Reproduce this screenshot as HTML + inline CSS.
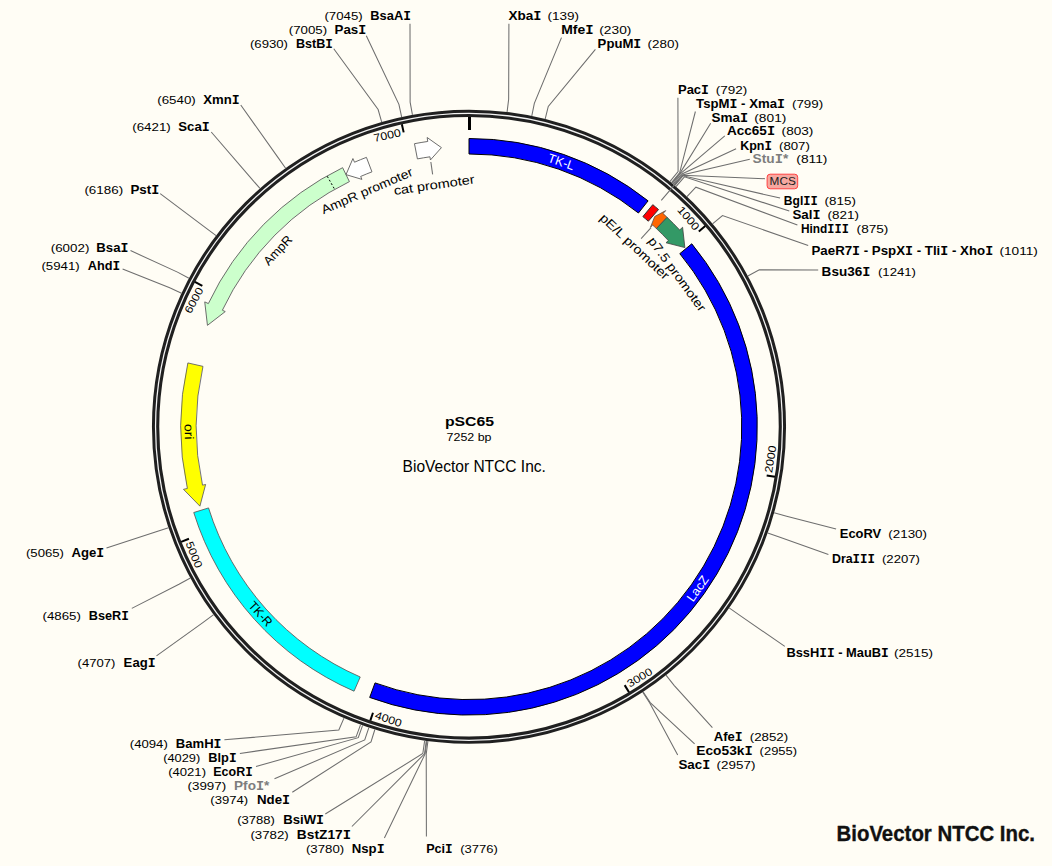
<!DOCTYPE html>
<html><head><meta charset="utf-8"><style>
html,body{margin:0;padding:0;background:#fffdf5;}
svg{display:block;}
text{font-family:"Liberation Sans", sans-serif;}
</style></head><body>
<svg width="1052" height="866" viewBox="0 0 1052 866" font-family='"Liberation Sans", sans-serif'>
<rect width="1052" height="866" fill="#fffdf5"/>
<circle cx="469.0" cy="426.8" r="313.4" fill="none" stroke="#202020" stroke-width="7.3"/>
<circle cx="469.0" cy="426.8" r="313.45" fill="none" stroke="#f4f4f4" stroke-width="1.25"/>
<path d="M469,138.5 A288.3,288.3 0 0 1 648.08,200.86 L638.45,213.01 A272.8,272.8 0 0 0 469,154 Z" fill="#0000ff" stroke="#000000" stroke-width="1.0" stroke-linejoin="miter"/>
<path d="M652.77,204.66 A288.3,288.3 0 0 1 658.52,209.55 L648.33,221.23 A272.8,272.8 0 0 0 642.89,216.6 Z" fill="#ff0000" stroke="#303030" stroke-width="1.0" stroke-linejoin="miter"/>
<path d="M667.09,217.33 A288.3,288.3 0 0 0 663.03,213.56 L665.72,210.61 L654.71,216.52 L650.44,227.4 L652.6,225.03 A272.8,272.8 0 0 1 656.44,228.59 Z" fill="#ff6600" stroke="#505050" stroke-width="0.8" stroke-linejoin="miter"/>
<path d="M667.09,217.33 A288.3,288.3 0 0 1 679.68,230 L682.6,227.27 L684.86,247.59 L666.01,242.76 L668.35,240.58 A272.8,272.8 0 0 0 656.44,228.59 Z" fill="#339966" stroke="#404040" stroke-width="0.8" stroke-linejoin="miter"/>
<path d="M691.78,243.81 A288.3,288.3 0 0 1 369.69,697.45 L375.03,682.9 A272.8,272.8 0 0 0 679.8,253.65 Z" fill="#0000ff" stroke="#000000" stroke-width="1.0" stroke-linejoin="miter"/>
<path d="M354.04,691.19 A288.3,288.3 0 0 1 193.74,512.53 L208.54,507.92 A272.8,272.8 0 0 0 360.22,676.97 Z" fill="#00ffff" stroke="#5a4a4a" stroke-width="0.8" stroke-linejoin="miter"/>
<path d="M187.86,362.93 A288.3,288.3 0 0 0 187.37,488.46 L183.46,489.32 L199.91,506.15 L205.64,484.46 L202.51,485.15 A272.8,272.8 0 0 1 202.98,366.36 Z" fill="#ffff00" stroke="#505060" stroke-width="0.8" stroke-linejoin="miter"/>
<path d="M342.62,167.68 A288.3,288.3 0 0 0 208.35,303.59 L204.74,301.88 L207.44,325.35 L225.26,311.58 L222.37,310.22 A272.8,272.8 0 0 1 349.41,181.61 Z" fill="#ccffcc" stroke="#5c5c5c" stroke-width="0.9" stroke-linejoin="miter"/>
<path d="M366.43,157.36 A288.3,288.3 0 0 0 354.5,162.21 L352.91,158.54 L346.01,174.64 L361.93,179.37 L360.66,176.44 A272.8,272.8 0 0 1 371.95,171.85 Z" fill="#ffffff" stroke="#5c5c5c" stroke-width="0.9" stroke-linejoin="miter"/>
<path d="M414.48,143.7 A288.3,288.3 0 0 1 427.73,141.47 L427.16,137.51 L441.43,147.61 L430.41,159.98 L429.95,156.81 A272.8,272.8 0 0 0 417.41,158.92 Z" fill="#ffffff" stroke="#5c5c5c" stroke-width="0.9" stroke-linejoin="miter"/>
<line x1="327.28" y1="176.31" x2="334.42" y2="188.93" stroke="#000" stroke-width="1" stroke-dasharray="2,2"/>
<line x1="469.5" y1="117" x2="469.5" y2="130" stroke="#000" stroke-width="3"/>
<line x1="705.22" y1="226.05" x2="698.82" y2="231.49" stroke="#000" stroke-width="2"/>
<text x="688.69" y="218.13" transform="rotate(49.64 688.69 218.13)" text-anchor="middle" dominant-baseline="central" font-size="10.9" textLength="27.5" lengthAdjust="spacingAndGlyphs">1000</text>
<line x1="774.94" y1="476.81" x2="766.65" y2="475.45" stroke="#000" stroke-width="2"/>
<text x="770.28" y="459.08" transform="rotate(-80.72 770.28 459.08)" text-anchor="middle" dominant-baseline="central" font-size="10.9" textLength="27.5" lengthAdjust="spacingAndGlyphs">2000</text>
<line x1="629.01" y1="692.31" x2="624.68" y2="685.12" stroke="#000" stroke-width="2"/>
<text x="639.5" y="677.28" transform="rotate(-31.08 639.5 677.28)" text-anchor="middle" dominant-baseline="central" font-size="10.9" textLength="27.5" lengthAdjust="spacingAndGlyphs">3000</text>
<line x1="370.3" y1="720.67" x2="372.97" y2="712.7" stroke="#000" stroke-width="2"/>
<text x="388.54" y="718.92" transform="rotate(18.57 388.54 718.92)" text-anchor="middle" dominant-baseline="central" font-size="10.9" textLength="27.5" lengthAdjust="spacingAndGlyphs">4000</text>
<line x1="181.15" y1="541.89" x2="188.95" y2="538.77" stroke="#000" stroke-width="2"/>
<text x="194.3" y="554.66" transform="rotate(68.21 194.3 554.66)" text-anchor="middle" dominant-baseline="central" font-size="10.9" textLength="27.5" lengthAdjust="spacingAndGlyphs">5000</text>
<line x1="194.9" y1="281.99" x2="202.33" y2="285.91" stroke="#000" stroke-width="2"/>
<text x="193.68" y="300.28" transform="rotate(297.85 193.68 300.28)" text-anchor="middle" dominant-baseline="central" font-size="10.9" textLength="27.5" lengthAdjust="spacingAndGlyphs">6000</text>
<line x1="401.85" y1="124.16" x2="403.67" y2="132.36" stroke="#000" stroke-width="2"/>
<text x="387.13" y="135.07" transform="rotate(347.49 387.13 135.07)" text-anchor="middle" dominant-baseline="central" font-size="10.9" textLength="27.5" lengthAdjust="spacingAndGlyphs">7000</text>
<g fill="none" stroke="#6e6e6e" stroke-width="1.05"><polyline points="412.45,114.88 410.13,102.09 410,23.75"/><polyline points="401.68,117.03 398.92,104.33 366.3,35.75"/><polyline points="381.71,122.06 378.13,109.56 333.75,48.75"/><polyline points="285.62,168.23 278.1,157.62 240.75,105"/><polyline points="259.98,188.47 251.41,178.7 211.25,132"/><polyline points="216.11,235.66 205.74,227.82 160.2,193.6"/><polyline points="188.97,278.23 177.49,272.14 130.5,250.6"/><polyline points="181.51,293.23 169.72,287.75 122.6,268.9"/><polyline points="168.5,527.73 156.17,531.87 106.5,547.9"/><polyline points="190.4,578.03 178.97,584.23 131.8,608.4"/><polyline points="213.64,614.64 203.17,622.34 156.5,655.9"/><polyline points="343.96,718.1 338.83,730.04 224.4,739.8"/><polyline points="360.55,724.67 356.1,736.89 239.9,753.4"/><polyline points="362.62,725.42 358.26,737.66 256,766.5"/><polyline points="368.85,727.56 364.74,739.9 274.5,778.8"/><polyline points="374.86,729.5 371,741.91 292.3,792.2"/><polyline points="424.65,740.68 422.83,753.55 325.3,814"/><polyline points="426.28,740.91 424.53,753.79 351.9,826.5"/><polyline points="426.83,740.98 425.1,753.87 384.4,838"/><polyline points="507.08,112.1 508.65,99.19 508.9,23.8"/><polyline points="531.75,116.07 534.33,103.33 561.5,37.6"/><polyline points="545.15,119.08 548.27,106.46 595.4,49.4"/><polyline points="669.85,181.55 678.09,171.49 677.9,97.8"/><polyline points="671.33,182.77 679.63,172.76 695.4,111.5"/><polyline points="671.76,183.12 680.07,173.13 710.7,123.3"/><polyline points="672.18,183.47 680.51,173.5 724.8,135.8"/><polyline points="673.02,184.18 681.39,174.23 736.1,148.7"/><polyline points="673.86,184.89 682.26,174.97 749.8,159.2"/><polyline points="674.7,185.6 683.13,175.71 780.1,198.1"/><polyline points="675.95,186.67 684.44,176.82 789.3,211.1"/><polyline points="686.95,196.61 695.89,187.17 797.4,225.1"/><polyline points="712.5,223.83 722.49,215.51 808.2,245.5"/><polyline points="747.86,276.05 759.3,269.87 818.2,269.9"/><polyline points="774.12,512.77 786.63,516.3 836.1,529.1"/><polyline points="767.71,532.92 779.96,537.28 828.4,554.4"/><polyline points="729.15,607.94 739.82,615.36 784.8,646.4"/><polyline points="666,675.15 674.08,685.34 712.4,727.7"/><polyline points="643.08,691.72 650.22,702.59 694.6,743.8"/><polyline points="642.62,692.02 649.74,702.9 677.7,755.1"/><polyline points="427.92,741.13 426.23,754.02 426.4,836.4"/><polyline points="661.29,200.46 682.66,175.31 765,178.7"/><polyline points="430.85,162.03 432.63,174.41"/><polyline points="651.1,227.72 641.11,238.64"/></g>
<g><text x="370.3" y="19.9" font-weight="bold" font-size="12.2" fill="#000" textLength="40.62" lengthAdjust="spacingAndGlyphs">BsaA<tspan font-family="Liberation Mono">I</tspan></text><text x="324.42" y="19.9" font-size="11.3" fill="#000" textLength="38.26" lengthAdjust="spacingAndGlyphs">(7045)</text><text x="334.52" y="33.8" font-weight="bold" font-size="12.2" fill="#000" textLength="31.74" lengthAdjust="spacingAndGlyphs">Pas<tspan font-family="Liberation Mono">I</tspan></text><text x="288.76" y="33.8" font-size="11.3" fill="#000" textLength="38.38" lengthAdjust="spacingAndGlyphs">(7005)</text><text x="295.98" y="47.8" font-weight="bold" font-size="12.2" fill="#000" textLength="36.94" lengthAdjust="spacingAndGlyphs">BstB<tspan font-family="Liberation Mono">I</tspan></text><text x="249.98" y="47.8" font-size="11.3" fill="#000" textLength="38.04" lengthAdjust="spacingAndGlyphs">(6930)</text><text x="203.3" y="104.25" font-weight="bold" font-size="12.2" fill="#000" textLength="36.45" lengthAdjust="spacingAndGlyphs">Xmn<tspan font-family="Liberation Mono">I</tspan></text><text x="157.25" y="104.25" font-size="11.3" fill="#000" textLength="38.55" lengthAdjust="spacingAndGlyphs">(6540)</text><text x="178.3" y="130.75" font-weight="bold" font-size="12.2" fill="#000" textLength="31.45" lengthAdjust="spacingAndGlyphs">Sca<tspan font-family="Liberation Mono">I</tspan></text><text x="132.25" y="130.75" font-size="11.3" fill="#000" textLength="38.55" lengthAdjust="spacingAndGlyphs">(6421)</text><text x="130.42" y="193.9" font-weight="bold" font-size="12.2" fill="#000" textLength="28.84" lengthAdjust="spacingAndGlyphs">Pst<tspan font-family="Liberation Mono">I</tspan></text><text x="84.42" y="193.9" font-size="11.3" fill="#000" textLength="38.72" lengthAdjust="spacingAndGlyphs">(6186)</text><text x="96.3" y="251.8" font-weight="bold" font-size="12.2" fill="#000" textLength="32.08" lengthAdjust="spacingAndGlyphs">Bsa<tspan font-family="Liberation Mono">I</tspan></text><text x="50.76" y="251.8" font-size="11.3" fill="#000" textLength="38.6" lengthAdjust="spacingAndGlyphs">(6002)</text><text x="87.76" y="269.9" font-weight="bold" font-size="12.2" fill="#000" textLength="32.38" lengthAdjust="spacingAndGlyphs">Ahd<tspan font-family="Liberation Mono">I</tspan></text><text x="41.42" y="269.9" font-size="11.3" fill="#000" textLength="38.26" lengthAdjust="spacingAndGlyphs">(5941)</text><text x="71.42" y="556.7" font-weight="bold" font-size="12.2" fill="#000" textLength="32.72" lengthAdjust="spacingAndGlyphs">Age<tspan font-family="Liberation Mono">I</tspan></text><text x="25.98" y="556.7" font-size="11.3" fill="#000" textLength="38.04" lengthAdjust="spacingAndGlyphs">(5065)</text><text x="88.76" y="619.8" font-weight="bold" font-size="12.2" fill="#000" textLength="40.16" lengthAdjust="spacingAndGlyphs">BseR<tspan font-family="Liberation Mono">I</tspan></text><text x="42.52" y="619.8" font-size="11.3" fill="#000" textLength="38.38" lengthAdjust="spacingAndGlyphs">(4865)</text><text x="123.64" y="667" font-weight="bold" font-size="12.2" fill="#000" textLength="31.96" lengthAdjust="spacingAndGlyphs">Eag<tspan font-family="Liberation Mono">I</tspan></text><text x="77.64" y="667" font-size="11.3" fill="#000" textLength="37.7" lengthAdjust="spacingAndGlyphs">(4707)</text><text x="175.86" y="747.7" font-weight="bold" font-size="12.2" fill="#000" textLength="45.62" lengthAdjust="spacingAndGlyphs">BamH<tspan font-family="Liberation Mono">I</tspan></text><text x="129.76" y="747.7" font-size="11.3" fill="#000" textLength="38.04" lengthAdjust="spacingAndGlyphs">(4094)</text><text x="208.3" y="761.5" font-weight="bold" font-size="12.2" fill="#000" textLength="28.28" lengthAdjust="spacingAndGlyphs">Blp<tspan font-family="Liberation Mono">I</tspan></text><text x="163.2" y="761.5" font-size="11.3" fill="#000" textLength="37.04" lengthAdjust="spacingAndGlyphs">(4029)</text><text x="213.3" y="775.6" font-weight="bold" font-size="12.2" fill="#000" textLength="39.4" lengthAdjust="spacingAndGlyphs">EcoR<tspan font-family="Liberation Mono">I</tspan></text><text x="168.2" y="775.6" font-size="11.3" fill="#000" textLength="37.82" lengthAdjust="spacingAndGlyphs">(4021)</text><text x="234.1" y="789.7" font-weight="bold" font-size="12.2" fill="#7d7d7d" textLength="35.24" lengthAdjust="spacingAndGlyphs">Pfo<tspan font-family="Liberation Mono">I</tspan>*</text><text x="187.52" y="789.7" font-size="11.3" fill="#000" textLength="38.62" lengthAdjust="spacingAndGlyphs">(3997)</text><text x="256.98" y="803.5" font-weight="bold" font-size="12.2" fill="#000" textLength="33.06" lengthAdjust="spacingAndGlyphs">Nde<tspan font-family="Liberation Mono">I</tspan></text><text x="210.3" y="803.5" font-size="11.3" fill="#000" textLength="37.82" lengthAdjust="spacingAndGlyphs">(3974)</text><text x="283.2" y="824.4" font-weight="bold" font-size="12.2" fill="#000" textLength="40.84" lengthAdjust="spacingAndGlyphs">BsiW<tspan font-family="Liberation Mono">I</tspan></text><text x="237.2" y="824.4" font-size="11.3" fill="#000" textLength="37.7" lengthAdjust="spacingAndGlyphs">(3788)</text><text x="296.86" y="838.7" font-weight="bold" font-size="12.2" fill="#000" textLength="54.06" lengthAdjust="spacingAndGlyphs">BstZ17<tspan font-family="Liberation Mono">I</tspan></text><text x="250.42" y="838.7" font-size="11.3" fill="#000" textLength="38.38" lengthAdjust="spacingAndGlyphs">(3782)</text><text x="351.76" y="853" font-weight="bold" font-size="12.2" fill="#000" textLength="32.84" lengthAdjust="spacingAndGlyphs">Nsp<tspan font-family="Liberation Mono">I</tspan></text><text x="305.98" y="853" font-size="11.3" fill="#000" textLength="38.16" lengthAdjust="spacingAndGlyphs">(3780)</text><text x="508.42" y="19.6" font-weight="bold" font-size="12.2" fill="#000" textLength="32.96" lengthAdjust="spacingAndGlyphs">Xba<tspan font-family="Liberation Mono">I</tspan></text><text x="547.52" y="19.6" font-size="11.3" fill="#000" textLength="31.5" lengthAdjust="spacingAndGlyphs">(139)</text><text x="561.3" y="34.2" font-weight="bold" font-size="12.2" fill="#000" textLength="32.3" lengthAdjust="spacingAndGlyphs">Mfe<tspan font-family="Liberation Mono">I</tspan></text><text x="599.3" y="34.2" font-size="11.3" fill="#000" textLength="32.06" lengthAdjust="spacingAndGlyphs">(230)</text><text x="597.64" y="48.1" font-weight="bold" font-size="12.2" fill="#000" textLength="43.62" lengthAdjust="spacingAndGlyphs">PpuM<tspan font-family="Liberation Mono">I</tspan></text><text x="647.64" y="48.1" font-size="11.3" fill="#000" textLength="31.26" lengthAdjust="spacingAndGlyphs">(280)</text><text x="677.98" y="93.7" font-weight="bold" font-size="12.2" fill="#000" textLength="30.94" lengthAdjust="spacingAndGlyphs">Pac<tspan font-family="Liberation Mono">I</tspan></text><text x="715.76" y="93.7" font-size="11.3" fill="#000" textLength="31.48" lengthAdjust="spacingAndGlyphs">(792)</text><text x="696.1" y="107.5" font-weight="bold" font-size="12.2" fill="#000" textLength="88.82" lengthAdjust="spacingAndGlyphs">TspM<tspan font-family="Liberation Mono">I</tspan> - Xma<tspan font-family="Liberation Mono">I</tspan></text><text x="791.98" y="107.5" font-size="11.3" fill="#000" textLength="31.16" lengthAdjust="spacingAndGlyphs">(799)</text><text x="711.42" y="121.5" font-weight="bold" font-size="12.2" fill="#000" textLength="36.62" lengthAdjust="spacingAndGlyphs">Sma<tspan font-family="Liberation Mono">I</tspan></text><text x="754.3" y="121.5" font-size="11.3" fill="#000" textLength="32.06" lengthAdjust="spacingAndGlyphs">(801)</text><text x="726.98" y="135.4" font-weight="bold" font-size="12.2" fill="#000" textLength="48.06" lengthAdjust="spacingAndGlyphs">Acc65<tspan font-family="Liberation Mono">I</tspan></text><text x="781.64" y="135.4" font-size="11.3" fill="#000" textLength="31.72" lengthAdjust="spacingAndGlyphs">(803)</text><text x="740.2" y="149.5" font-weight="bold" font-size="12.2" fill="#000" textLength="31.72" lengthAdjust="spacingAndGlyphs">Kpn<tspan font-family="Liberation Mono">I</tspan></text><text x="778.98" y="149.5" font-size="11.3" fill="#000" textLength="30.94" lengthAdjust="spacingAndGlyphs">(807)</text><text x="752.64" y="163.2" font-weight="bold" font-size="12.2" fill="#7d7d7d" textLength="35.7" lengthAdjust="spacingAndGlyphs">Stu<tspan font-family="Liberation Mono">I</tspan>*</text><text x="796.3" y="163.2" font-size="11.3" fill="#000" textLength="31.16" lengthAdjust="spacingAndGlyphs">(811)</text><text x="783.86" y="205.4" font-weight="bold" font-size="12.2" fill="#000" textLength="33.96" lengthAdjust="spacingAndGlyphs">Bgl<tspan font-family="Liberation Mono">I</tspan><tspan font-family="Liberation Mono">I</tspan></text><text x="824.64" y="205.4" font-size="11.3" fill="#000" textLength="31.26" lengthAdjust="spacingAndGlyphs">(815)</text><text x="792.42" y="219.1" font-weight="bold" font-size="12.2" fill="#000" textLength="28.06" lengthAdjust="spacingAndGlyphs">Sal<tspan font-family="Liberation Mono">I</tspan></text><text x="827.64" y="219.1" font-size="11.3" fill="#000" textLength="31.38" lengthAdjust="spacingAndGlyphs">(821)</text><text x="800.98" y="232.9" font-weight="bold" font-size="12.2" fill="#000" textLength="47.82" lengthAdjust="spacingAndGlyphs">Hind<tspan font-family="Liberation Mono">I</tspan><tspan font-family="Liberation Mono">I</tspan><tspan font-family="Liberation Mono">I</tspan></text><text x="856.64" y="232.9" font-size="11.3" fill="#000" textLength="31.72" lengthAdjust="spacingAndGlyphs">(875)</text><text x="811.52" y="254.8" font-weight="bold" font-size="12.2" fill="#000" textLength="181.62" lengthAdjust="spacingAndGlyphs">PaeR7<tspan font-family="Liberation Mono">I</tspan> - PspX<tspan font-family="Liberation Mono">I</tspan> - Tli<tspan font-family="Liberation Mono">I</tspan> - Xho<tspan font-family="Liberation Mono">I</tspan></text><text x="999.42" y="254.8" font-size="11.3" fill="#000" textLength="38.48" lengthAdjust="spacingAndGlyphs">(1011)</text><text x="821.64" y="275.8" font-weight="bold" font-size="12.2" fill="#000" textLength="48.72" lengthAdjust="spacingAndGlyphs">Bsu36<tspan font-family="Liberation Mono">I</tspan></text><text x="877.98" y="275.8" font-size="11.3" fill="#000" textLength="38.04" lengthAdjust="spacingAndGlyphs">(1241)</text><text x="839.76" y="537.6" font-weight="bold" font-size="12.2" fill="#000" textLength="41.48" lengthAdjust="spacingAndGlyphs">EcoRV</text><text x="888.3" y="537.6" font-size="11.3" fill="#000" textLength="38.72" lengthAdjust="spacingAndGlyphs">(2130)</text><text x="831.98" y="562.8" font-weight="bold" font-size="12.2" fill="#000" textLength="42.94" lengthAdjust="spacingAndGlyphs">Dra<tspan font-family="Liberation Mono">I</tspan><tspan font-family="Liberation Mono">I</tspan><tspan font-family="Liberation Mono">I</tspan></text><text x="881.98" y="562.8" font-size="11.3" fill="#000" textLength="37.92" lengthAdjust="spacingAndGlyphs">(2207)</text><text x="786.42" y="656.9" font-weight="bold" font-size="12.2" fill="#000" textLength="102.4" lengthAdjust="spacingAndGlyphs">BssH<tspan font-family="Liberation Mono">I</tspan><tspan font-family="Liberation Mono">I</tspan> - MauB<tspan font-family="Liberation Mono">I</tspan></text><text x="894.08" y="656.9" font-size="11.3" fill="#000" textLength="38.94" lengthAdjust="spacingAndGlyphs">(2515)</text><text x="713.76" y="740.6" font-weight="bold" font-size="12.2" fill="#000" textLength="28.94" lengthAdjust="spacingAndGlyphs">Afe<tspan font-family="Liberation Mono">I</tspan></text><text x="749.76" y="740.6" font-size="11.3" fill="#000" textLength="38.38" lengthAdjust="spacingAndGlyphs">(2852)</text><text x="696.3" y="755.1" font-weight="bold" font-size="12.2" fill="#000" textLength="56.4" lengthAdjust="spacingAndGlyphs">Eco53k<tspan font-family="Liberation Mono">I</tspan></text><text x="759.64" y="755.1" font-size="11.3" fill="#000" textLength="37.48" lengthAdjust="spacingAndGlyphs">(2955)</text><text x="678.42" y="769.2" font-weight="bold" font-size="12.2" fill="#000" textLength="31.84" lengthAdjust="spacingAndGlyphs">Sac<tspan font-family="Liberation Mono">I</tspan></text><text x="716.64" y="769.2" font-size="11.3" fill="#000" textLength="38.72" lengthAdjust="spacingAndGlyphs">(2957)</text><text x="426.2" y="853" font-weight="bold" font-size="12.2" fill="#000" textLength="26.5" lengthAdjust="spacingAndGlyphs">Pci<tspan font-family="Liberation Mono">I</tspan></text><text x="460.2" y="853" font-size="11.3" fill="#000" textLength="37.6" lengthAdjust="spacingAndGlyphs">(3776)</text></g>
<rect x="767.1" y="174.2" width="30.6" height="14.6" rx="3" ry="3" fill="#f6a8a0" stroke="#ff4040" stroke-width="1"/>
<text x="769.6" y="185.2" font-size="11.5" fill="#202020" textLength="26.2" lengthAdjust="spacingAndGlyphs">MCS</text>
<text x="561.18" y="162.09" transform="rotate(19.2 561.18 162.09)" text-anchor="middle" dominant-baseline="central" font-size="12.5" fill="#fff" stroke="#fff" stroke-width="0.0" textLength="27.1" lengthAdjust="spacingAndGlyphs">TK-L</text>
<text x="697.9" y="588.57" transform="rotate(-54.75 697.9 588.57)" text-anchor="middle" dominant-baseline="central" font-size="12.5" fill="#fff" stroke="#fff" stroke-width="0.0" textLength="28.4" lengthAdjust="spacingAndGlyphs">LacZ</text>
<text x="260.37" y="613.99" transform="rotate(48.1 260.37 613.99)" text-anchor="middle" dominant-baseline="central" font-size="12.5" fill="#000" stroke="#000" stroke-width="0.0" textLength="28.8" lengthAdjust="spacingAndGlyphs">TK-R</text>
<text x="188.74" y="431.69" transform="rotate(89 188.74 431.69)" text-anchor="middle" dominant-baseline="central" font-size="12.5" fill="#000" stroke="#000" stroke-width="0.0" textLength="15.7" lengthAdjust="spacingAndGlyphs">ori</text>
<text x="277.92" y="250.48" transform="rotate(-47.3 277.92 250.48)" text-anchor="middle" dominant-baseline="central" font-size="12.5" fill="#000" stroke="#000" stroke-width="0.0" textLength="35.7" lengthAdjust="spacingAndGlyphs">AmpR</text>
<text x="367.01" y="191.12" transform="rotate(-23.4 367.01 191.12)" text-anchor="middle" dominant-baseline="central" font-size="12.5" fill="#000" stroke="#000" stroke-width="0.0" textLength="98.5" lengthAdjust="spacingAndGlyphs">AmpR promoter</text>
<text x="434.18" y="185.2" transform="rotate(-8.2 434.18 185.2)" text-anchor="middle" dominant-baseline="central" font-size="12.5" fill="#000" stroke="#000" stroke-width="0.0" textLength="81.5" lengthAdjust="spacingAndGlyphs">cat promoter</text>
<text x="634.5" y="246.82" transform="rotate(43.3 634.5 246.82)" text-anchor="middle" dominant-baseline="central" font-size="12.5" fill="#000" stroke="#000" stroke-width="0.0" textLength="89.8" lengthAdjust="spacingAndGlyphs">pE/L promoter</text>
<text x="676.9" y="274.36" transform="rotate(53.9 676.9 274.36)" text-anchor="middle" dominant-baseline="central" font-size="12.5" fill="#000" stroke="#000" stroke-width="0.0" textLength="88.5" lengthAdjust="spacingAndGlyphs">p7.5 promoter</text>
<text x="444.9" y="426.3" font-weight="bold" font-size="13.4" textLength="49.3" lengthAdjust="spacingAndGlyphs">pSC65</text>
<text x="446.6" y="440.9" font-size="11" textLength="44.9" lengthAdjust="spacingAndGlyphs">7252 bp</text>
<text x="402.6" y="471.6" font-size="15.8" textLength="143.3" lengthAdjust="spacingAndGlyphs">BioVector NTCC Inc.</text>
<text x="836.5" y="841.3" font-weight="bold" font-size="21.5" fill="#111" stroke="#111" stroke-width="0.35" textLength="198.5" lengthAdjust="spacingAndGlyphs">BioVector NTCC Inc.</text>
</svg>
</body></html>
